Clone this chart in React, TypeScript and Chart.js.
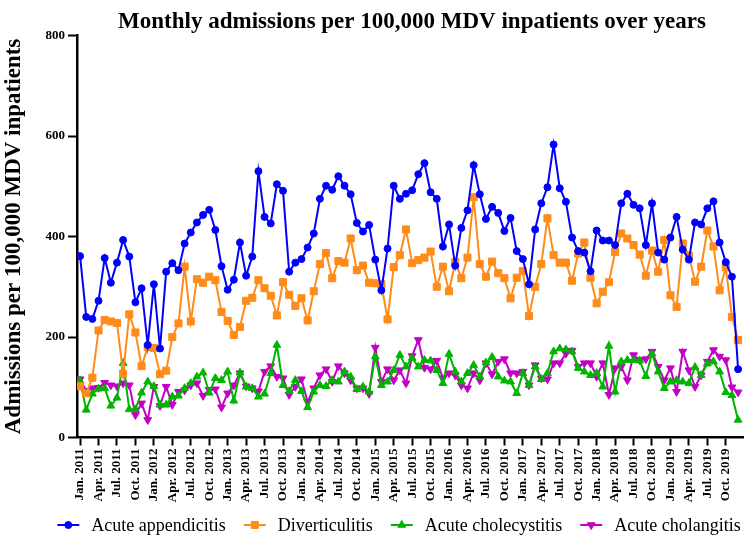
import React, { useEffect, useRef } from "react";
import { Chart, registerables } from "chart.js";
import { drawPoint } from "chart.js/helpers";

Chart.register(...registerables);

// ---- Data -----------------------------------------------------------------
const YEARS = [2011, 2012, 2013, 2014, 2015, 2016, 2017, 2018, 2019];
const TICK_MONTHS = ["Jan.", "Apr.", "Jul.", "Oct."];
const TICK_LABELS = YEARS.flatMap((y) => TICK_MONTHS.map((m) => `${m} ${y}`));
const MONTHS_PER_TICK = 3;

const TITLE = "Monthly admissions per 100,000 MDV inpatients over years";
const Y_TITLE = "Admissions per 100,000 MDV inpatients";
const Y_MIN = 0;
const Y_MAX = 800;
const Y_STEP = 200;

const SERIES_LABELS = [
  "Acute appendicitis",
  "Diverticulitis",
  "Acute cholecystitis",
  "Acute cholangitis",
];

// Monthly values, Jan 2011 .. Dec 2019 (108 months)
const APPENDICITIS = [
  361, 240, 236, 272, 357, 308, 348, 393, 360, 269, 297, 184,
  305, 177, 330, 347, 333, 386, 408, 428, 443, 453, 413, 341,
  294, 314, 388, 322, 360, 530, 439, 426, 504, 491, 330, 348,
  355, 378, 406, 475, 501, 493, 520, 501, 484, 427, 410, 423,
  354, 293, 376, 501, 475, 485, 492, 524, 546, 488, 475, 380,
  424, 342, 417, 452, 542, 484, 435, 459, 447, 411, 437, 371,
  355, 305, 414, 466, 498, 583, 496, 469, 398, 371, 368, 331,
  412, 392, 392, 383, 466, 485, 463, 456, 383, 466, 368, 354,
  398, 439, 374, 354, 428, 424, 456, 470, 388, 349, 320, 136,
];
const DIVERTICULITIS = [
  102, 88, 119, 213, 234, 231, 228, 127, 245, 209, 142, 180,
  178, 126, 133, 200, 227, 340, 231, 315, 308, 320, 313, 250,
  232, 204, 220, 272, 278, 313, 297, 282, 243, 309, 284, 262,
  277, 233, 291, 345, 367, 317, 351, 348, 396, 333, 342, 308,
  307, 305, 235, 339, 363, 414, 347, 353, 358, 370, 300, 340,
  291, 349, 317, 358, 478, 345, 320, 350, 327, 317, 277, 318,
  331, 242, 300, 345, 436, 363, 348, 348, 312, 366, 388, 318,
  267, 290, 309, 369, 406, 396, 383, 364, 322, 372, 330, 393,
  283, 260, 386, 362, 310, 340, 412, 380, 293, 339, 240, 194,
];
const CHOLECYSTITIS = [
  113, 55, 87, 97, 98, 63, 79, 148, 56, 56, 89, 111,
  102, 65, 65, 81, 83, 98, 108, 121, 129, 89, 118, 114,
  131, 73, 129, 101, 98, 81, 87, 128, 184, 104, 92, 114,
  92, 60, 91, 104, 102, 114, 111, 131, 121, 96, 101, 91,
  161, 104, 111, 134, 164, 141, 158, 141, 154, 153, 134, 108,
  166, 131, 111, 128, 144, 121, 149, 160, 121, 113, 111, 88,
  128, 104, 141, 116, 128, 171, 177, 175, 171, 138, 131, 124,
  128, 101, 182, 91, 151, 154, 154, 153, 122, 167, 131, 98,
  111, 114, 111, 108, 140, 124, 147, 151, 131, 90, 84, 35,
];
const CHOLANGITIS = [
  116, 93, 98, 99, 109, 104, 102, 108, 104, 45, 68, 35,
  101, 63, 101, 65, 91, 94, 104, 108, 83, 95, 96, 60,
  88, 104, 128, 102, 98, 92, 131, 142, 121, 118, 85, 101,
  116, 71, 98, 124, 136, 111, 142, 128, 114, 98, 98, 87,
  179, 111, 136, 114, 134, 108, 162, 194, 139, 136, 153, 118,
  128, 124, 104, 98, 128, 114, 148, 126, 151, 156, 128, 128,
  131, 104, 144, 118, 116, 148, 148, 167, 173, 141, 148, 148,
  121, 148, 85, 138, 141, 114, 164, 154, 156, 171, 141, 114,
  138, 91, 171, 134, 101, 124, 151, 174, 161, 154, 100, 90,
];

const SERIES_VALUES = [APPENDICITIS, DIVERTICULITIS, CHOLECYSTITIS, CHOLANGITIS];

// ---- Styles ---------------------------------------------------------------
const COLORS = ["#0000FF", "#FF8C1A", "#00B400", "#C400C4"];
const POINT_STYLES = ["circle", "rect", "triangle", "triangle"];
const POINT_ROTATIONS = [0, 0, 0, 180];
const POINT_RADII = [3.5, 5, 4.5, 4.5];
const FONT = '"Liberation Serif", "Times New Roman", serif';

const overlayPlugin = {
  id: "overlay",
  afterDraw(chart: any) {
    const { ctx, chartArea } = chart;
    ctx.save();
    // Title
    ctx.fillStyle = "#000";
    ctx.font = `bold 23px ${FONT}`;
    ctx.textAlign = "center";
    ctx.textBaseline = "alphabetic";
    ctx.fillText(TITLE, (chartArea.left + chartArea.right) / 2 + 2, 28);

    // Legend
    ctx.font = `18px ${FONT}`;
    const markerW = 22;
    const gap = 12;
    const itemGap = 18;
    const items = chart.data.datasets.map((ds: any) => ({
      ds,
      w: ctx.measureText(ds.label).width,
    }));
    const total =
      items.reduce((s: number, it: any) => s + markerW + gap + it.w, 0) +
      itemGap * (items.length - 1);
    let x = 399 - total / 2;
    const y = 525;
    items.forEach((it: any) => {
      const ds = it.ds;
      ctx.strokeStyle = ds.borderColor;
      ctx.lineWidth = 2;
      ctx.beginPath();
      ctx.moveTo(x, y);
      ctx.lineTo(x + markerW, y);
      ctx.stroke();
      ctx.fillStyle = ds.backgroundColor;
      ctx.lineWidth = 1;
      drawPoint(
        ctx,
        {
          pointStyle: ds.pointStyle,
          rotation: ds.pointRotation,
          radius: ds.pointRadius,
          borderWidth: 1,
        },
        x + markerW / 2,
        y
      );
      ctx.fillStyle = "#000";
      ctx.textAlign = "left";
      ctx.textBaseline = "middle";
      ctx.fillText(ds.label, x + markerW + gap, y + 1);
      x += markerW + gap + it.w + itemGap;
    });
    ctx.restore();
  },
};

export default function App() {
  const canvasRef = useRef<HTMLCanvasElement | null>(null);

  useEffect(() => {
    const canvas = canvasRef.current;
    if (!canvas) return;
    const datasets = SERIES_VALUES.map((values, s) => ({
      label: SERIES_LABELS[s],
      data: values.map((v, i) => ({ x: i, y: v })),
      borderColor: COLORS[s],
      backgroundColor: COLORS[s],
      pointBackgroundColor: COLORS[s],
      pointBorderColor: COLORS[s],
      borderWidth: 2,
      pointStyle: POINT_STYLES[s],
      pointRotation: POINT_ROTATIONS[s],
      pointRadius: POINT_RADII[s],
      pointBorderWidth: 1,
      tension: 0,
      fill: false,
    }));

    const chart = new Chart(canvas, {
      type: "line",
      data: { datasets },
      plugins: [overlayPlugin],
      options: {
        responsive: false,
        animation: false,
        devicePixelRatio: 1,
        layout: { padding: { left: 0, right: 8, top: 35.5, bottom: 44 } },
        plugins: {
          legend: { display: false },
          title: { display: false },
          tooltip: { enabled: false },
        },
        scales: {
          x: {
            type: "linear",
            min: -0.5,
            max: 107.8,
            afterBuildTicks: (scale: any) => {
              scale.ticks = TICK_LABELS.map((_, k) => ({ value: k * MONTHS_PER_TICK }));
            },
            afterFit: (scale: any) => {
              scale.height = 69.5;
            },
            ticks: {
              autoSkip: false,
              minRotation: 90,
              maxRotation: 90,
              padding: 3,
              color: "#000",
              font: { family: FONT, size: 13, weight: "bold" },
              callback: (value: any) => TICK_LABELS[Math.round(value / MONTHS_PER_TICK)] ?? "",
            },
            grid: {
              drawOnChartArea: false,
              drawTicks: true,
              tickLength: 8,
              tickWidth: 2,
              tickColor: "#000",
              color: "#000",
            },
            border: { display: true, color: "#000", width: 2.5 },
          },
          y: {
            min: Y_MIN,
            max: Y_MAX,
            afterFit: (scale: any) => {
              scale.width = 77;
            },
            ticks: {
              stepSize: Y_STEP,
              padding: 3,
              color: "#000",
              font: { family: FONT, size: 13, weight: "bold" },
            },
            grid: {
              drawOnChartArea: false,
              drawTicks: true,
              tickLength: 9,
              tickWidth: 2,
              tickColor: "#000",
              color: "#000",
            },
            border: { display: true, color: "#000", width: 2.5 },
            title: {
              display: true,
              text: Y_TITLE,
              color: "#000",
              font: { family: FONT, size: 23, weight: "bold" },
              padding: { top: 0, bottom: 0 },
            },
          },
        },
      },
    });
    return () => chart.destroy();
  }, []);

  return (
    <div
      style={{
        position: "fixed",
        left: 0,
        top: 0,
        width: 751,
        height: 551,
        background: "#fff",
      }}
    >
      <canvas ref={canvasRef} width={751} height={551} style={{ display: "block" }} />
    </div>
  );
}
